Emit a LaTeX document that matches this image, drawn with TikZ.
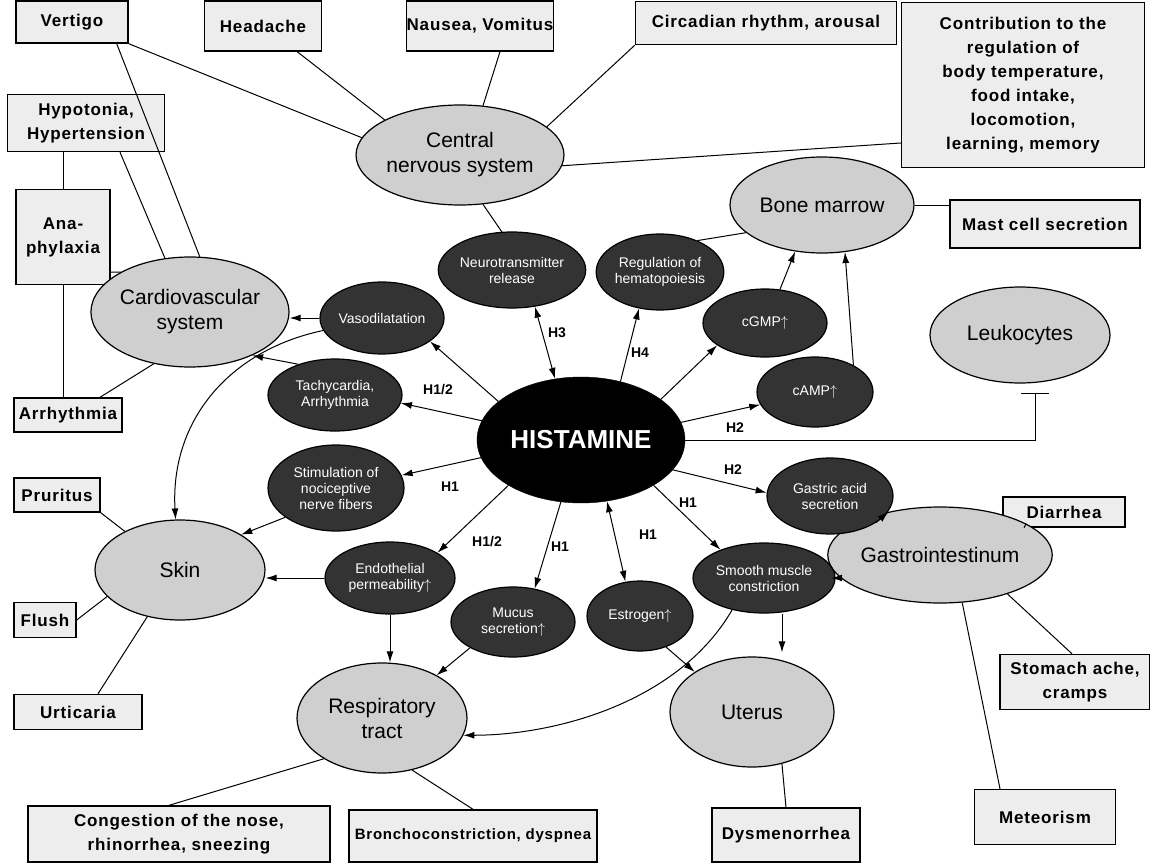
\documentclass[tikz,border=0pt]{standalone}
\usepackage{fontspec}
\setmainfont{Liberation Sans}
\newfontfamily\boxfont[LetterSpace=5]{Liberation Sans}
\usetikzlibrary{arrows.meta,shapes.geometric}
\tikzset{
  box/.style={draw, line width=1.4pt, fill=gray!14, align=center, inner sep=0pt,
    font=\boxfont\bfseries\fontsize{17}{24}\selectfont},
  organ/.style={ellipse, draw, line width=1.2pt, fill=gray!38, align=center, inner sep=0pt,
    font=\fontsize{21}{25}\selectfont},
  eff/.style={ellipse, draw, line width=1.2pt, fill=black!80, text=white, align=center, inner sep=0pt,
    font=\fontsize{14}{16}\selectfont},
  lab/.style={font=\bfseries\fontsize{14}{16}\selectfont},
  arr/.style={line width=1pt, -{Latex[length=11pt,width=7pt]}},
  darr/.style={line width=1pt, {Latex[length=11pt,width=7pt]}-{Latex[length=11pt,width=7pt]}},
  ln/.style={line width=1pt}
}
\begin{document}
\begin{tikzpicture}[x=1pt,y=-1pt]
\useasboundingbox (0,0) rectangle (1150,864);
\fill[white] (0,0) rectangle (1150,864);

% boxes
\node[box, minimum width=112, minimum height=42] (vert) at (72,22) {Vertigo};
\node[box, minimum width=117, minimum height=50] (head) at (263,26) {Headache};
\node[box, minimum width=135, minimum height=50] (naus) at (480,26) {Nausea, Vomitus};
\node[box, minimum width=261, minimum height=43] (circ) at (766,23) {Circadian rhythm, arousal};
\node[box, minimum width=243, minimum height=165] (contrib) at (1023,85) {Contribution to the\\regulation of\\body temperature,\\food intake,\\locomotion,\\learning, memory};
\node[box, minimum width=157, minimum height=57] (hypo) at (86,123) {Hypotonia,\\Hypertension};
\node[box, minimum width=94, minimum height=95] (ana) at (63,237) {Ana-\\phylaxia};
\node[box, minimum width=108, minimum height=34] (arr) at (68,415) {Arrhythmia};
\node[box, minimum width=86, minimum height=34] (prur) at (57,495) {Pruritus};
\node[box, minimum width=62, minimum height=35] (flush) at (45,620) {Flush};
\node[box, minimum width=128, minimum height=35] (urt) at (78,712) {Urticaria};
\node[box, minimum width=302, minimum height=56] (cong) at (179,834) {Congestion of the nose,\\rhinorrhea, sneezing};
\node[box, minimum width=248, minimum height=52, font=\boxfont\bfseries\fontsize{15}{20}\selectfont] (bron) at (473,836) {Bronchoconstriction, dyspnea};
\node[box, minimum width=148, minimum height=54] (dysm) at (786,835) {Dysmenorrhea};
\node[box, minimum width=141, minimum height=55] (meteo) at (1045,817) {Meteorism};
\node[box, minimum width=150, minimum height=55] (stom) at (1075,682) {Stomach ache,\\cramps};
\node[box, minimum width=122, minimum height=30] (diarr) at (1064,512) {Diarrhea};
\node[box, minimum width=190, minimum height=48] (mast) at (1045,224) {Mast cell secretion};

% organs
\node[organ, minimum width=190, minimum height=100] (cns) at (460,155) {Central\\nervous system};
\node[organ, minimum width=184, minimum height=96] (bone) at (822,205) {Bone marrow};
\node[organ, minimum width=180, minimum height=96] (leuk) at (1020,335) {Leukocytes};
\node[organ, minimum width=190, minimum height=110] (cardio) at (190,312) {Cardiovascular\\system};
\node[organ, minimum width=170, minimum height=100] (skin) at (180,570) {Skin};
\node[organ, minimum width=170, minimum height=110] (resp) at (382,718) {Respiratory\\tract};
\node[organ, minimum width=164, minimum height=110] (uterus) at (752,712) {Uterus};
\node[organ, minimum width=172, minimum height=96] (gastro) at (940,555) {Gastrointestinum};

% effectors
\node[eff, minimum width=126, minimum height=76] (neuro) at (512,270) {Neurotransmitter\\release};
\node[eff, minimum width=126, minimum height=76] (hema) at (660,272) {Regulation of\\hematopoiesis};
\node[eff, minimum width=124, minimum height=72] (vaso) at (382,318) {Vasodilatation};
\node[eff, minimum width=124, minimum height=68] (cgmp) at (765,323) {cGMP$\uparrow$};
\node[eff, minimum width=134, minimum height=72] (tachy) at (335,395) {Tachycardia,\\Arrhythmia};
\node[eff, minimum width=116, minimum height=70] (camp) at (815,392) {cAMP$\uparrow$};
\node[eff, minimum width=136, minimum height=86] (stim) at (336,488) {Stimulation of\\nociceptive\\nerve fibers};
\node[eff, minimum width=126, minimum height=76] (gast) at (830,496) {Gastric acid\\secretion};
\node[eff, minimum width=130, minimum height=72] (endo) at (390,578) {Endothelial\\permeability$\uparrow$};
\node[eff, minimum width=124, minimum height=70] (mucus) at (513,622) {Mucus\\secretion$\uparrow$};
\node[eff, minimum width=106, minimum height=70] (estr) at (640,616) {Estrogen$\uparrow$};
\node[eff, minimum width=142, minimum height=70] (smooth) at (764,578) {Smooth muscle\\constriction};

\node[ellipse, fill=black, draw, minimum width=208, minimum height=126, inner sep=0pt, text=white,
  font=\bfseries\fontsize{26}{30}\selectfont] (hist) at (581,440) {HISTAMINE};

% box-organ lines
\draw[ln] (vert.south east) -- (cns.170);
\draw[ln] ([xshift=-12pt]vert.south east) -- (cardio.80);
\draw[ln] ([xshift=-25pt]head.south east) -- (cns.155);
\draw[ln] ([xshift=20pt]naus.south) -- (cns.65);
\draw[ln] (circ.south west) -- (cns.18);
\draw[ln] ([yshift=-58pt]contrib.west) -- (cns.-6);
\draw[ln] ([xshift=34pt]hypo.south) -- (cardio.115);
\draw[ln] (ana.north) -- (ana.north |- hypo.south);
\draw[ln] (ana.south) -- (ana.south |- arr.north);
\draw[ln] ([yshift=-35pt]ana.east) -- (cardio.150);
\draw[ln] ([xshift=32pt]arr.north) -- (cardio.235);
\draw[ln] (prur.south east) -- (skin.145);
\draw[ln] (flush.east) -- (skin.200);
\draw[ln] ([xshift=20pt]urt.north) -- (skin.235);
\draw[ln] ([xshift=-10pt]cong.north) -- (resp.215);
\draw[ln] (bron.north) -- (resp.-60);
\draw[ln] (dysm.north) -- (uterus.-60);
\draw[ln] ([xshift=-45pt]meteo.north) -- (gastro.-65);
\draw[ln] ([xshift=-3pt]stom.north) -- (gastro.-30);
\draw[ln] ([xshift=-40pt]diarr.south) -- (gastro.20);
\draw[ln] (bone.east) -- (bone.east -| mast.west);
\draw[ln] (hema.40) -- (bone.200);
\draw[ln] (neuro.105) -- (cns.-65);

% histamine arrows
\draw[darr] (hist.113) -- (neuro.-58);
\draw[arr] (hist.56) -- (hema.-120);
\draw[arr] (hist.27) -- (cgmp.205);
\draw[arr] (hist.10) -- (camp.193);
\draw[line width=1pt, -{Bar[width=28pt,line width=1.5pt]}] (hist.east) -| ([xshift=15pt,yshift=-9pt]leuk.south);
\draw[arr] (hist.-18) -- (gast.177);
\draw[arr] (hist.-32) -- (smooth.147);
\draw[darr] (hist.-67) -- (estr.113);
\draw[arr] (hist.-108) -- (mucus.57);
\draw[arr] (hist.-148) -- (endo.28);
\draw[arr] (hist.-170) -- (stim.11);
\draw[arr] (hist.169) -- (tachy.-7);
\draw[arr] (hist.155) -- (vaso.-26);

% effector to organ
\draw[arr] (camp.35) -- (bone.-64);
\draw[arr] (cgmp.66) -- (bone.-120);
\draw[arr] (vaso.west) -- (vaso.west -| cardio.east);
\draw[arr] (vaso.192) .. controls (230,350) and (170,420) .. (skin.95);
\draw[arr] (tachy.140) -- (cardio.-35);
\draw[arr] (stim.210) -- (skin.30);
\draw[arr] (endo.west) -- (endo.west -| skin.east);
\draw[arr] (endo.south) -- (endo.south |- resp.north);
\draw[arr] (mucus.211) -- (resp.38);
\draw[arr] (estr.-50) -- (uterus.145);
\draw[arr, shorten >=4pt] ([xshift=18pt]smooth.south) -- ([xshift=18pt]smooth.south |- uterus.north);
\draw[arr, shorten >=4pt] (smooth.east) -- (smooth.east -| gastro.west);
\draw[arr] (gast.-30) -- (gastro.140);
\draw[arr] (smooth.-135) .. controls (680,700) and (560,735) .. (resp.-12);

% labels
\node[lab] (l1) at (557,333) {H3};
\node[lab] (l2) at (640,353) {H4};
\node[lab] (l3) at (438,390) {H1/2};
\node[lab] (l4) at (735,428) {H2};
\node[lab] (l5) at (450,487) {H1};
\node[lab] (l6) at (733,470) {H2};
\node[lab] (l7) at (688,503) {H1};
\node[lab] (l8) at (648,535) {H1};
\node[lab] (l9) at (560,547) {H1};
\node[lab] (l10) at (487,542) {H1/2};
\end{tikzpicture}
\end{document}
